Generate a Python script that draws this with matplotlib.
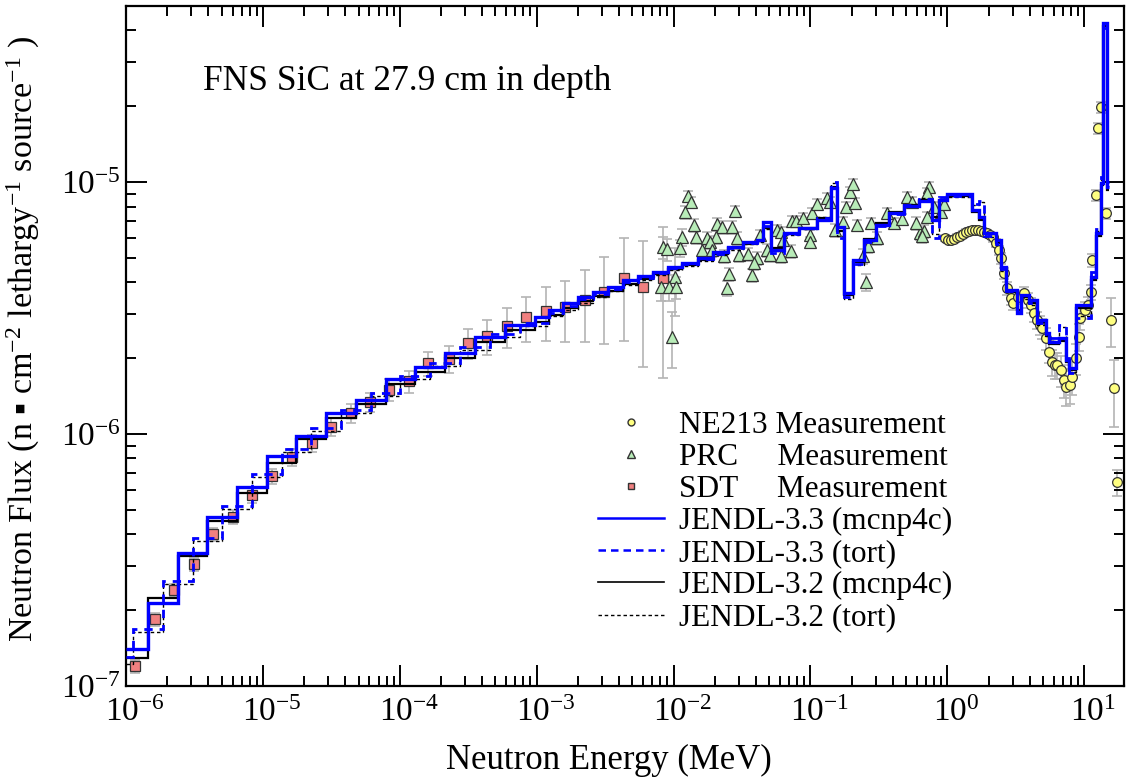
import numpy as np
import matplotlib
matplotlib.use("Agg")
import matplotlib.pyplot as plt
import matplotlib.transforms as mtransforms
from matplotlib.lines import Line2D
from matplotlib.ticker import FixedLocator, LogFormatterMathtext, NullFormatter

plt.rcParams["font.family"] = ["Liberation Serif", "DejaVu Sans"]
plt.rcParams["mathtext.fontset"] = "custom"
plt.rcParams["mathtext.rm"] = "Liberation Serif"
plt.rcParams["mathtext.default"] = "regular"
plt.rcParams["axes.unicode_minus"] = False

# axis decades that carry labels
x_decades = [1e-6, 1e-5, 1e-4, 1e-3, 1e-2, 1e-1, 1e0, 1e1]
y_decades = [1e-7, 1e-6, 1e-5]

# --- calculated spectra (MeV edges, flux per lethargy) ---
mcnp_edges = [1.0e-6, 1.45e-6, 2.40e-6, 3.90e-6, 6.46e-6, 1.07e-5, 1.74e-5, 2.88e-5,
              4.77e-5, 7.90e-5, 1.29e-4, 2.13e-4, 3.53e-4, 5.84e-4, 9.67e-4, 1.24e-3,
              1.55e-3, 1.99e-3, 2.56e-3, 3.30e-3, 4.24e-3, 5.46e-3, 7.03e-3, 9.04e-3,
              1.16e-2, 1.50e-2, 1.93e-2, 2.48e-2, 3.19e-2, 4.04e-2, 4.47e-2, 5.19e-2,
              6.46e-2, 8.30e-2, 0.111, 0.142, 0.157, 0.177, 0.203, 0.248, 0.303, 0.377,
              0.486, 0.625, 0.778, 0.875, 1.0, 1.52, 1.71, 1.86, 2.28, 2.48, 2.70, 3.24,
              3.47, 3.97, 4.54, 5.28, 5.55, 6.57, 7.39, 7.77, 8.74, 11.25, 12.2, 13.3,
              13.8, 14.7, 15.2]
tort_edges = [1.0e-6, 1.125e-6, 1.86e-6, 3.08e-6, 5.02e-6, 8.31e-6, 1.38e-5, 2.24e-5,
              3.71e-5, 6.14e-5, 1.0e-4, 1.66e-4, 2.74e-4, 4.54e-4, 7.52e-4, 1.24e-3,
              1.55e-3, 1.99e-3, 2.56e-3, 3.30e-3, 4.24e-3, 5.46e-3, 7.03e-3, 9.04e-3,
              1.16e-2, 1.50e-2, 1.93e-2, 2.48e-2, 3.19e-2, 4.04e-2, 4.47e-2, 5.19e-2,
              6.46e-2, 8.30e-2, 0.111, 0.142, 0.157, 0.177, 0.203, 0.248, 0.303, 0.377,
              0.486, 0.625, 0.778, 0.875, 1.0, 1.52, 1.71, 1.86, 2.28, 2.48, 2.70, 3.24,
              3.47, 3.97, 4.54, 5.28, 5.55, 6.57, 7.39, 7.77, 8.74, 11.25, 12.2, 13.3,
              13.8, 14.7, 15.2]

j33_mcnp = [1.40e-7, 2.13e-7, 3.37e-7, 4.69e-7, 6.16e-7, 8.18e-7, 9.82e-7, 1.21e-6,
            1.36e-6, 1.65e-6, 1.85e-6, 2.10e-6, 2.43e-6, 2.71e-6, 2.91e-6, 3.10e-6,
            3.31e-6, 3.50e-6, 3.66e-6, 3.83e-6, 4.08e-6, 4.24e-6, 4.40e-6, 4.60e-6,
            4.77e-6, 4.99e-6, 5.27e-6, 5.52e-6, 5.78e-6, 5.90e-6, 6.94e-6, 5.37e-6,
            6.30e-6, 6.60e-6, 7.10e-6, 9.46e-6, 6.63e-6, 3.63e-6, 4.90e-6, 5.89e-6,
            6.75e-6, 7.54e-6, 8.04e-6, 8.41e-6, 7.07e-6, 8.49e-6, 8.96e-6, 7.74e-6,
            7.26e-6, 6.28e-6, 5.89e-6, 4.60e-6, 3.73e-6, 3.02e-6, 3.56e-6, 3.40e-6,
            2.83e-6, 2.52e-6, 2.32e-6, 2.40e-6, 1.97e-6, 1.83e-6, 3.25e-6, 4.20e-6,
            6.28e-6, 9.91e-6, 4.28e-5, 9.55e-6]
j33_tort = [1.30e-7, 1.68e-7, 2.60e-7, 3.85e-7, 5.20e-7, 6.95e-7, 8.75e-7, 1.06e-6,
            1.25e-6, 1.45e-6, 1.70e-6, 1.92e-6, 2.21e-6, 2.50e-6, 2.75e-6, 3.02e-6,
            3.22e-6, 3.42e-6, 3.60e-6, 3.78e-6, 4.00e-6, 4.18e-6, 4.35e-6, 4.55e-6,
            4.72e-6, 4.95e-6, 5.20e-6, 5.45e-6, 5.72e-6, 5.85e-6, 6.70e-6, 5.25e-6,
            6.20e-6, 6.55e-6, 7.20e-6, 1.00e-5, 6.00e-6, 3.50e-6, 4.75e-6, 5.80e-6,
            6.70e-6, 7.50e-6, 8.10e-6, 8.60e-6, 6.00e-6, 8.70e-6, 8.80e-6, 8.20e-6,
            8.40e-6, 6.10e-6, 5.70e-6, 4.50e-6, 3.70e-6, 3.05e-6, 3.50e-6, 3.30e-6,
            2.75e-6, 2.50e-6, 2.40e-6, 2.70e-6, 2.00e-6, 1.75e-6, 2.90e-6, 4.40e-6,
            6.50e-6, 1.05e-5, 4.10e-5, 1.00e-5]
j32_mcnp = [1.29e-7, 2.23e-7, 3.28e-7, 4.52e-7, 5.83e-7, 7.67e-7, 9.55e-7, 1.16e-6,
            1.31e-6, 1.58e-6, 1.77e-6, 2.00e-6, 2.31e-6, 2.58e-6, 2.78e-6, 2.97e-6,
            3.17e-6, 3.36e-6, 3.52e-6, 3.70e-6, 3.95e-6, 4.12e-6, 4.30e-6, 4.50e-6,
            4.70e-6, 4.92e-6, 5.20e-6, 5.45e-6, 5.70e-6, 5.85e-6, 6.60e-6, 5.45e-6,
            6.20e-6, 6.55e-6, 7.20e-6, 9.60e-6, 6.40e-6, 3.55e-6, 4.80e-6, 5.95e-6,
            6.85e-6, 7.60e-6, 8.10e-6, 8.50e-6, 7.30e-6, 8.40e-6, 8.80e-6, 7.60e-6,
            7.10e-6, 6.20e-6, 5.75e-6, 4.50e-6, 3.65e-6, 3.10e-6, 3.50e-6, 3.30e-6,
            2.78e-6, 2.45e-6, 2.28e-6, 2.35e-6, 1.93e-6, 1.80e-6, 3.15e-6, 4.10e-6,
            6.10e-6, 9.70e-6, 4.15e-5, 9.30e-6]
j32_tort = [1.22e-7, 1.64e-7, 2.55e-7, 3.75e-7, 5.05e-7, 6.75e-7, 8.50e-7, 1.03e-6,
            1.21e-6, 1.41e-6, 1.65e-6, 1.86e-6, 2.15e-6, 2.43e-6, 2.68e-6, 2.95e-6,
            3.12e-6, 3.32e-6, 3.50e-6, 3.68e-6, 3.90e-6, 4.08e-6, 4.26e-6, 4.46e-6,
            4.66e-6, 4.88e-6, 5.14e-6, 5.40e-6, 5.66e-6, 5.80e-6, 6.50e-6, 5.35e-6,
            6.15e-6, 6.50e-6, 7.25e-6, 9.90e-6, 6.10e-6, 3.45e-6, 4.70e-6, 5.85e-6,
            6.80e-6, 7.55e-6, 8.15e-6, 8.65e-6, 6.20e-6, 8.60e-6, 8.75e-6, 8.10e-6,
            8.30e-6, 6.05e-6, 5.65e-6, 4.45e-6, 3.65e-6, 3.10e-6, 3.45e-6, 3.25e-6,
            2.72e-6, 2.45e-6, 2.35e-6, 2.65e-6, 1.98e-6, 1.76e-6, 2.95e-6, 4.30e-6,
            6.40e-6, 1.02e-5, 4.00e-5, 9.80e-6]

# --- measurements (energy MeV, flux, relative error) ---
sdt_e = [1.16e-6, 1.63e-6, 2.24e-6, 3.14e-6, 4.32e-6, 6.04e-6, 8.31e-6, 1.16e-5,
         1.63e-5, 2.28e-5, 3.14e-5, 4.39e-5, 6.04e-5, 8.31e-5, 1.16e-4, 1.60e-4,
         2.28e-4, 3.14e-4, 4.32e-4, 6.04e-4, 8.31e-4, 1.16e-3, 1.60e-3, 2.24e-3,
         3.08e-3, 4.32e-3, 5.94e-3, 8.31e-3]
sdt_f = [1.20e-7, 1.84e-7, 2.40e-7, 3.05e-7, 4.01e-7, 4.69e-7, 5.73e-7, 6.81e-7,
         8.11e-7, 9.21e-7, 1.07e-6, 1.21e-6, 1.34e-6, 1.50e-6, 1.62e-6, 1.91e-6,
         1.99e-6, 2.30e-6, 2.45e-6, 2.68e-6, 2.91e-6, 3.08e-6, 3.19e-6, 3.40e-6,
         3.66e-6, 4.16e-6, 3.83e-6, 4.16e-6]
sdt_err = [0.06, 0.06, 0.06, 0.06, 0.06, 0.06, 0.07, 0.07, 0.08, 0.08, 0.08, 0.09,
           0.09, 0.10, 0.10, 0.11, 0.12, 0.14, 0.16, 0.18, 0.20, 0.24, 0.27, 0.32,
           0.38, 0.44, 0.52, 0.60]

prc_e = [1.27e-2, 1.33e-2, 1.22e-2, 2.79e-2, 1.40e-2, 2.09e-2, 2.24e-2, 2.65e-2,
         1.16e-2, 1.47e-2, 2.03e-2, 1.74e-2, 1.83e-2, 2.93e-2, 1.11e-2, 8.31e-3,
         8.89e-3, 1.60e-2, 1.90e-2, 3.03e-2, 3.47e-2, 4.04e-2, 2.32e-2, 3.84e-2,
         2.52e-2, 3.71e-2, 1.02e-2, 8.04e-3, 9.20e-3, 1.05e-2, 2.44e-2, 9.67e-3,
         4.25e-2, 4.85e-2, 5.02e-2, 5.65e-2, 6.14e-2, 6.25e-2, 7.15e-2, 6.14e-2,
         7.39e-2, 7.78e-2, 8.89e-2, 0.100, 0.100, 0.103, 0.112, 0.131, 0.138, 0.150,
         0.183, 0.193, 0.203, 0.213, 0.256, 0.220, 0.279, 0.308, 0.265, 0.240,
         0.365, 0.410, 0.470, 0.511, 0.556, 0.635, 0.680, 0.714, 0.650, 0.739,
         0.714, 0.594, 0.804, 0.174, 0.900, 0.950]
prc_f = [8.80e-6, 8.33e-6, 7.60e-6, 7.67e-6, 6.75e-6, 6.81e-6, 6.63e-6, 6.63e-6,
         6.05e-6, 6.05e-6, 6.05e-6, 5.99e-6, 5.78e-6, 5.99e-6, 5.47e-6, 5.52e-6,
         5.42e-6, 5.37e-6, 5.37e-6, 5.13e-6, 5.18e-6, 4.99e-6, 5.09e-6, 4.77e-6,
         4.31e-6, 4.28e-6, 4.20e-6, 3.83e-6, 3.83e-6, 3.83e-6, 3.80e-6, 2.43e-6,
         6.16e-6, 5.37e-6, 5.13e-6, 6.45e-6, 6.34e-6, 5.89e-6, 5.32e-6, 5.09e-6,
         7.00e-6, 7.00e-6, 7.20e-6, 6.16e-6, 5.78e-6, 7.53e-6, 8.18e-6, 8.64e-6,
         8.33e-6, 6.45e-6, 7.96e-6, 9.13e-6, 9.82e-6, 8.26e-6, 4.01e-6, 6.75e-6,
         6.88e-6, 5.99e-6, 5.57e-6, 5.09e-6, 7.53e-6, 6.88e-6, 7.13e-6, 8.72e-6,
         8.33e-6, 6.28e-6, 6.39e-6, 7.26e-6, 6.11e-6, 9.55e-6, 9.04e-6, 6.88e-6,
         7.96e-6, 6.94e-6, 7.60e-6, 8.20e-6]
prc_err = [0.05, 0.05, 0.06, 0.05, 0.06, 0.06, 0.06, 0.06, 0.08, 0.06, 0.06, 0.06,
           0.06, 0.06, 0.08, 0.10, 0.10, 0.06, 0.06, 0.06, 0.06, 0.06, 0.06, 0.06,
           0.06, 0.06, 0.30, 0.12, 0.12, 0.10, 0.07, 0.25, 0.05, 0.06, 0.06, 0.05,
           0.05, 0.05, 0.06, 0.06, 0.05, 0.05, 0.05, 0.05, 0.05, 0.05, 0.05, 0.05,
           0.05, 0.06, 0.05, 0.05, 0.05, 0.05, 0.08, 0.05, 0.05, 0.06, 0.06, 0.07,
           0.05, 0.05, 0.05, 0.05, 0.05, 0.06, 0.06, 0.05, 0.06, 0.05, 0.05, 0.06,
           0.05, 0.05, 0.05, 0.05]

ne213_e = [0.967, 1.017, 1.070, 1.125, 1.183, 1.245, 1.309, 1.377, 1.448, 1.52,
           1.60, 1.68, 1.77, 1.86, 1.96, 2.06, 2.17, 2.28, 2.40, 2.48, 2.61, 2.74,
           2.93, 3.03, 3.30, 3.65, 3.90, 4.10, 4.32, 4.54, 4.77, 4.94, 5.28, 5.55,
           5.84, 6.14, 6.35, 6.79, 7.15, 7.39, 7.90, 8.17, 8.74, 9.19, 9.35, 10.17,
           10.7, 11.25, 11.4, 12.2, 12.7, 13.3, 14.5, 15.7, 16.6, 17.4]
ne213_f = [5.99e-6, 5.89e-6, 5.89e-6, 5.94e-6, 6.05e-6, 6.11e-6, 6.22e-6, 6.34e-6,
           6.39e-6, 6.45e-6, 6.45e-6, 6.45e-6, 6.39e-6, 6.34e-6, 6.28e-6, 6.16e-6,
           6.05e-6, 5.73e-6, 5.37e-6, 4.99e-6, 4.35e-6, 3.80e-6, 3.47e-6, 3.31e-6,
           3.50e-6, 3.63e-6, 3.40e-6, 3.25e-6, 3.02e-6, 2.83e-6, 2.71e-6, 2.63e-6,
           2.40e-6, 2.12e-6, 1.93e-6, 1.88e-6, 1.88e-6, 1.79e-6, 1.64e-6, 1.54e-6,
           1.56e-6, 1.68e-6, 2.00e-6, 2.43e-6, 2.88e-6, 3.10e-6, 3.25e-6, 3.66e-6,
           4.90e-6, 8.87e-6, 1.64e-5, 1.98e-5, 7.53e-6, 2.83e-6, 1.52e-6, 6.45e-7]
ne213_err = [0.03, 0.03, 0.03, 0.03, 0.03, 0.03, 0.03, 0.03, 0.03, 0.03, 0.03, 0.03,
             0.03, 0.03, 0.03, 0.03, 0.04, 0.04, 0.04, 0.05, 0.05, 0.06, 0.06, 0.06,
             0.06, 0.06, 0.07, 0.07, 0.08, 0.08, 0.09, 0.09, 0.10, 0.10, 0.12, 0.12,
             0.12, 0.14, 0.15, 0.16, 0.16, 0.15, 0.14, 0.12, 0.10, 0.08, 0.08, 0.07,
             0.06, 0.05, 0.05, 0.05, 0.05, 0.22, 0.30, 0.12]

BLUE = "#0000ff"
GREY = "#b4b4b4"

fig = plt.figure(figsize=(11.26, 7.78), dpi=100)
ax = fig.add_axes([0.1119, 0.1183, 0.8863, 0.8740])

def measured(e, f, err, marker, face, ms):
    e, f, err = np.array(e), np.array(f), np.array(err)
    ax.errorbar(e, f, yerr=err * f, fmt="none", ecolor=GREY, elinewidth=1.2,
                capsize=3.5, capthick=1.2, zorder=1)
    ax.plot(e, f, ls="none", marker=marker, mfc=face, mec="#333333", mew=0.9,
            ms=ms, zorder=2)

measured(sdt_e, sdt_f, sdt_err, "s", "#f08080", 6.5)
measured(prc_e, prc_f, prc_err, "^", "#b8ecb8", 8)
measured(ne213_e, ne213_f, ne213_err, "o", "#ffff80", 7)

ax.stairs(j32_tort, tort_edges, baseline=None, color="black", lw=1.0,
          ls=(0, (2.5, 2)), zorder=3)
ax.stairs(j32_mcnp, mcnp_edges, baseline=None, color="black", lw=1.6, zorder=3)
ax.stairs(j33_tort, tort_edges, baseline=None, color=BLUE, lw=2.0,
          ls=(0, (3, 2.5)), zorder=4)
ax.stairs(j33_mcnp, mcnp_edges, baseline=None, color=BLUE, lw=2.4, zorder=4)

ax.set_xscale("log")
ax.set_yscale("log")
ax.set_xlim(1e-6, 19.5)
ax.set_ylim(1e-7, 5e-5)

# minor ticks at 2..9 of each decade, only inside the shown range
x_minor = [d * k for d in x_decades for k in range(2, 10) if d * k < 19.5]
y_minor = [d * k for d in y_decades for k in range(2, 10) if d * k < 5e-5]
ax.xaxis.set_major_locator(FixedLocator(x_decades))
ax.xaxis.set_minor_locator(FixedLocator(x_minor))
ax.yaxis.set_major_locator(FixedLocator(y_decades))
ax.yaxis.set_minor_locator(FixedLocator(y_minor))
for axis in (ax.xaxis, ax.yaxis):
    axis.set_major_formatter(LogFormatterMathtext())
    axis.set_minor_formatter(NullFormatter())

ax.tick_params(which="both", direction="in", top=True, right=True, width=1.4)
ax.tick_params(which="major", length=15, labelsize=24)
ax.tick_params(which="minor", length=7.5)
ax.tick_params(axis="x", pad=8)
ax.tick_params(axis="y", pad=4)
for s in ax.spines.values():
    s.set_linewidth(1.6)

# nudge x tick labels so the "10" sits on the tick, as in the original
shift = mtransforms.ScaledTranslation(9 / 100, 0, fig.dpi_scale_trans)
for lab in ax.get_xticklabels():
    lab.set_transform(lab.get_transform() + shift)

ax.set_xlabel("Neutron Energy (MeV)", fontsize=25)
ax.xaxis.set_label_coords(0.484, -0.085)
ax.set_ylabel("Neutron Flux (n \u25aa cm$^{-2}$ lethargy$^{-1}$ source$^{-1}$ )", fontsize=24.5)
ax.yaxis.set_label_coords(-0.084, 0.51)

ax.text(0.077, 0.89, "FNS SiC at 27.9 cm in depth", transform=ax.transAxes,
        fontsize=25.5, va="center", ha="left")

handles = [
    Line2D([], [], ls="none", marker="o", mfc="#ffff80", mec="#333333", ms=5),
    Line2D([], [], ls="none", marker="^", mfc="#b8ecb8", mec="#333333", ms=5.5),
    Line2D([], [], ls="none", marker="s", mfc="#f08080", mec="#333333", ms=5),
    Line2D([], [], color=BLUE, lw=1.8),
    Line2D([], [], color=BLUE, lw=1.8, ls=(0, (3, 2))),
    Line2D([], [], color="black", lw=1.2),
    Line2D([], [], color="black", lw=1.0, ls=(0, (2.5, 2))),
]
labels = ["NE213 Measurement", "PRC     Measurement", "SDT     Measurement",
          "JENDL-3.3 (mcnp4c)", "JENDL-3.3 (tort)", "JENDL-3.2 (mcnp4c)",
          "JENDL-3.2 (tort)"]
ax.legend(handles, labels, loc="upper left", bbox_to_anchor=(0.473, 0.405),
          frameon=False, fontsize=22.5, handlelength=2.1, handletextpad=0.5,
          labelspacing=0.1, borderpad=0, borderaxespad=0)

fig.savefig("out.png", dpi=100)
